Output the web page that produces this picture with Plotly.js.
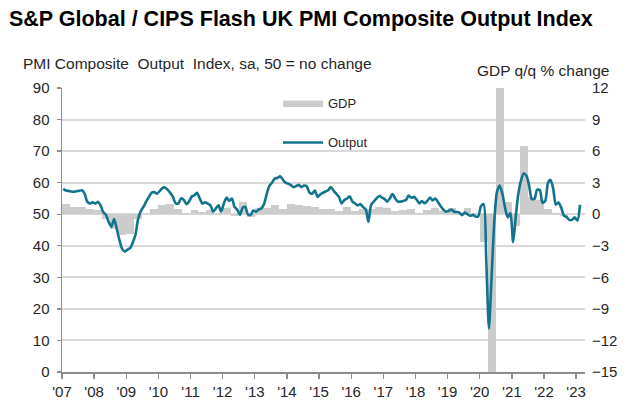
<!DOCTYPE html>
<html>
<head>
<meta charset="utf-8">
<script src="https://cdn.plot.ly/plotly-3.0.1.min.js"></script>
<style>
html,body{margin:0;padding:0;background:#fff;}
#chart{width:644px;height:416px;}
</style>
</head>
<body>
<div id="chart"></div>
<script>
// PMI Composite Output Index, monthly, Jan 2007 - Feb 2023
var pmiStart = [2007, 0];
var pmiOutput = [
  58.1, 57.5, 57.4, 57.2, 57.1, 57.3, 57.4, 57.6, 56.5, 54.0, 53.4, 53.8,
  53.4, 53.9, 52.8, 50.6, 49.8, 47.5, 46.0, 48.5, 45.3, 41.8, 39.0, 38.2,
  38.8, 39.3, 41.0, 43.5, 48.5, 51.0, 52.3, 54.0, 55.5, 56.8, 57.0, 56.5,
  57.3, 58.3, 58.5, 57.8, 56.8, 55.5, 53.5, 53.4, 55.0, 54.6, 53.2, 54.0,
  55.6, 56.0, 56.8, 55.0, 53.4, 53.8, 53.4, 52.8, 50.8, 51.8, 52.8, 50.8,
  53.4, 55.3, 54.2, 55.0, 52.3, 51.4, 49.8, 52.0, 52.3, 49.9, 49.8, 51.2,
  50.8, 51.5, 51.8, 53.2, 56.3, 59.0, 60.0, 61.3, 61.5, 62.0, 61.0, 60.0,
  59.7, 59.2, 58.6, 58.9, 59.3, 58.6, 59.1, 58.8, 56.8, 56.5, 57.5, 55.5,
  56.3, 56.8, 57.2, 57.6, 58.6, 57.5, 56.5, 55.5, 53.4, 54.5, 55.0, 55.7,
  54.0, 53.4, 52.8, 53.2, 52.3, 51.5, 47.6, 53.0, 54.0, 55.0, 55.8, 55.3,
  54.8, 54.0, 55.0, 56.4, 55.0, 54.0, 54.0, 54.2, 54.5, 55.9, 55.2, 55.5,
  54.6, 53.4, 54.2, 53.5, 54.2, 55.3, 54.4, 55.0, 53.8, 52.5, 51.4, 50.8,
  51.1, 51.5, 50.8, 50.7, 50.5, 49.7, 50.5, 50.0, 49.5, 49.8, 49.3, 49.3,
  52.5, 53.2, 36.0, 13.8, 30.0, 47.7, 57.0, 59.1, 56.5, 52.1, 49.0, 50.4,
  41.2, 49.6, 56.4, 60.7, 62.9, 62.2, 59.2, 54.8, 54.9, 57.8, 57.6, 53.6,
  54.2, 59.9, 60.9, 58.2, 53.1, 53.7, 52.1, 49.6, 49.1, 48.2, 48.2, 49.0,
  48.0, 53.0
];

// GDP q/q % change, quarterly, 2007 Q1 - 2022 Q4
var gdpStart = 2007;
var gdpQoQ = [
  1.0, 0.7, 0.7, 0.5,
  0.4, -0.5, -1.4, -2.0,
  -1.9, -0.5, 0.0, 0.5,
  0.9, 1.0, 0.5, 0.1,
  0.4, 0.2, 0.4, 0.1,
  0.6, -0.2, 1.2, -0.3,
  0.6, 0.6, 0.9, 0.5,
  1.0, 0.9, 0.8, 0.7,
  0.5, 0.5, 0.3, 0.7,
  0.3, 0.5, 0.5, 0.7,
  0.6, 0.3, 0.4, 0.5,
  0.1, 0.4, 0.6, 0.3,
  0.6, -0.1, 0.6, 0.1,
  -2.6, -21.0, 17.6, 1.2,
  -1.1, 6.5, 1.6, 1.4,
  0.5, 0.1, -0.2, 0.0
];

var tickYears = [2007,2008,2009,2010,2011,2012,2013,2014,2015,2016,2017,2018,2019,2020,2021,2022,2023];
var tickLabels = ["'07","'08","'09","'10","'11","'12","'13","'14","'15","'16","'17","'18","'19","'20","'21","'22","'23"];

function pad(n){return (n<10?'0':'')+n;}
function ymd(y,m,d){var dt=new Date(Date.UTC(y,m,d));return dt.getUTCFullYear()+'-'+pad(dt.getUTCMonth()+1)+'-'+pad(dt.getUTCDate());}

var pmiDates = pmiOutput.map(function(v,i){return ymd(pmiStart[0], pmiStart[1]+i, 15);});
var gdpDates = gdpQoQ.map(function(v,i){return ymd(gdpStart, i*3+1, 15);});
var tickDates = tickYears.map(function(y){return ymd(y,0,1);});

var font = 'Liberation Sans, Arial, sans-serif';
var textCol = '#262626';

var traces = [
  {
    type: 'bar', name: 'GDP', x: gdpDates, y: gdpQoQ, yaxis: 'y',
    width: 90*86400000,
    marker: {color: '#cccccc', line: {width: 0}},
    showlegend: false, hoverinfo: 'x+y'
  },
  {
    type: 'scatter', mode: 'lines', name: 'Output', x: pmiDates, y: pmiOutput, yaxis: 'y2',
    line: {color: '#12738d', width: 2.6, shape: 'spline', smoothing: 0.7},
    showlegend: false
  }
];

function px2x(px){return (px-62)/523;}
function px2y(py){return (372-py)/284;}

var layout = {
  width: 644, height: 416,
  margin: {l: 62, r: 59, t: 88, b: 44},
  paper_bgcolor: '#ffffff', plot_bgcolor: '#ffffff',
  font: {family: font, color: textCol, size: 15},
  showlegend: false,
  bargap: 0,
  title: {
    text: '<b>S&amp;P Global / CIPS Flash UK PMI Composite Output Index</b>',
    font: {family: font, size: 21.5, color: '#000000'},
    xref: 'container', x: 9/644, xanchor: 'left',
    yref: 'container', y: 1-18/416, yanchor: 'middle'
  },
  xaxis: {
    type: 'date',
    range: ['2007-01-01', '2023-04-12'],
    tickvals: tickDates, ticktext: tickLabels,
    ticks: 'outside', ticklen: 5, tickwidth: 1.3, tickcolor: '#8c8c8c',
    showline: true, linecolor: '#8c8c8c', linewidth: 1.5,
    showgrid: false, zeroline: false,
    tickfont: {family: font, size: 15, color: textCol}
  },
  yaxis: {
    side: 'right',
    range: [-15, 12], dtick: 3, tick0: -15,
    showgrid: true, gridcolor: '#d9d9d9', gridwidth: 2,
    zeroline: false, showline: false, ticks: '',
    ticklabelstandoff: 6,
    tickfont: {family: font, size: 15, color: textCol}
  },
  yaxis2: {
    overlaying: 'y', side: 'left',
    range: [0, 90], dtick: 10, tick0: 0,
    showgrid: false, zeroline: false,
    showline: true, linecolor: '#8c8c8c', linewidth: 1.5,
    ticks: 'outside', ticklen: 4, tickwidth: 1.3, tickcolor: '#8c8c8c',
    ticklabelstandoff: 4,
    tickfont: {family: font, size: 15, color: textCol}
  },
  shapes: [
    {type: 'rect', xref: 'paper', yref: 'paper', x0: px2x(283), x1: px2x(323), y0: px2y(107), y1: px2y(100.5),
     fillcolor: '#cccccc', line: {width: 0}},
    {type: 'line', xref: 'paper', yref: 'paper', x0: px2x(283), x1: px2x(323), y0: px2y(142.5), y1: px2y(142.5),
     line: {color: '#12738d', width: 2.6}}
  ],
  annotations: [
    {text: 'GDP', xref: 'paper', yref: 'paper', x: px2x(326), y: px2y(103.5), xanchor: 'left', yanchor: 'middle',
     showarrow: false, font: {family: font, size: 13, color: textCol}},
    {text: 'Output', xref: 'paper', yref: 'paper', x: px2x(326), y: px2y(142.5), xanchor: 'left', yanchor: 'middle',
     showarrow: false, font: {family: font, size: 13, color: textCol}},
    {text: 'PMI Composite\u00a0 Output\u00a0 Index, sa, 50 = no change', xref: 'paper', yref: 'paper',
     x: px2x(21), y: px2y(63), xanchor: 'left', yanchor: 'middle', showarrow: false,
     font: {family: font, size: 15.5, color: textCol}},
    {text: 'GDP q/q % change', xref: 'paper', yref: 'paper',
     x: px2x(611), y: px2y(70), xanchor: 'right', yanchor: 'middle', showarrow: false,
     font: {family: font, size: 15.5, color: textCol}}
  ]
};

Plotly.newPlot('chart', traces, layout, {displayModeBar: false, staticPlot: true});
</script>
</body>
</html>
